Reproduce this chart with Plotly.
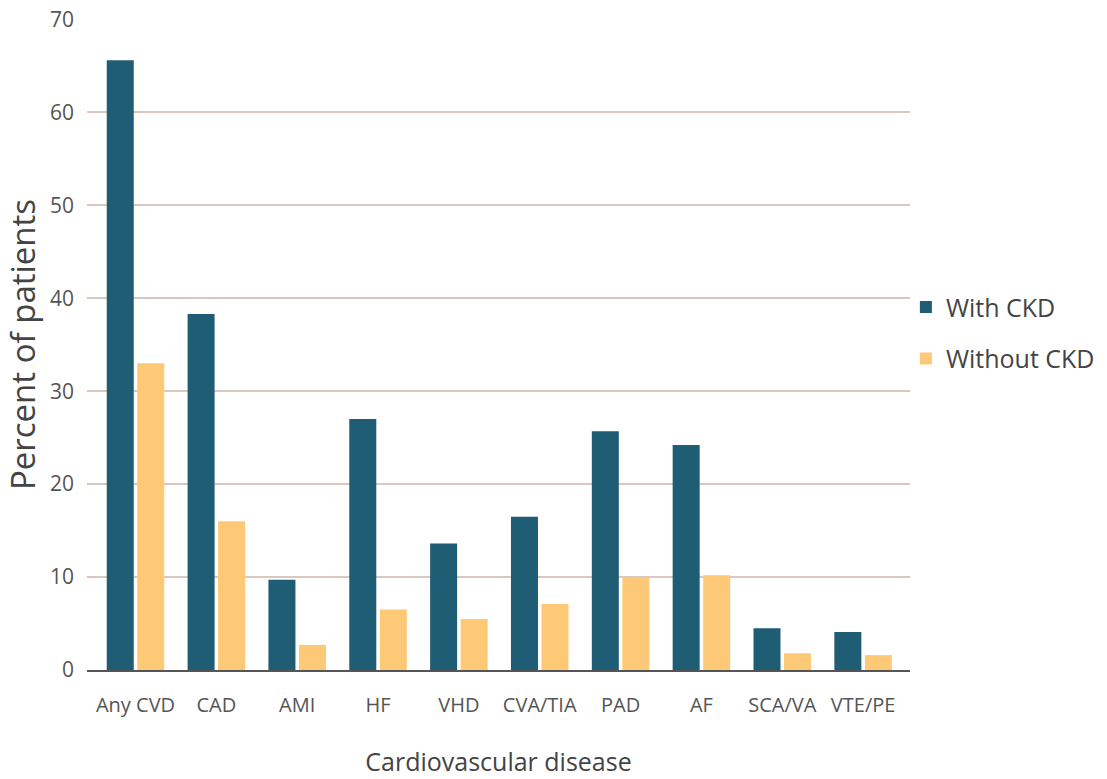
import plotly.graph_objects as go

categories = ["Any CVD", "CAD", "AMI", "HF", "VHD", "CVA/TIA", "PAD", "AF", "SCA/VA", "VTE/PE"]
with_ckd = [65.6, 38.3, 9.7, 27.0, 13.6, 16.5, 25.7, 24.2, 4.5, 4.1]
without_ckd = [33.0, 16.0, 2.7, 6.5, 5.5, 7.1, 10.0, 10.2, 1.8, 1.6]
y_ticks = [0, 10, 20, 30, 40, 50, 60, 70]

series = [("With CKD", with_ckd, "#1f5d75"), ("Without CKD", without_ckd, "#fdc977")]

FONT = "Open Sans"
TEXT = "#555555"

fig = go.Figure()
for name, values, color in series:
    fig.add_trace(go.Bar(name=name, x=categories, y=values, showlegend=False,
                         marker=dict(color=color, line=dict(width=0))))
# legend entries with larger square swatches
for name, values, color in series:
    fig.add_trace(go.Scatter(name=name, x=[None], y=[None], mode="markers",
                             legendgroup=name,
                             marker=dict(symbol="square", size=19, color=color)))

fig.update_layout(
    width=1107, height=779,
    margin=dict(l=87, r=197, t=19, b=109, autoexpand=False),
    paper_bgcolor="white", plot_bgcolor="white",
    barmode="group", bargap=0.245, bargroupgap=0.115,
    font=dict(family=FONT, color=TEXT),
    showlegend=True,
    legend=dict(x=0.995, y=0.518, xanchor="left", yanchor="middle",
                font=dict(size=25, color="#444444"), itemsizing="constant",
                tracegroupgap=16, bgcolor="rgba(0,0,0,0)", itemwidth=30),
)
fig.update_xaxes(
    range=[-0.6, 9.58], showgrid=False, ticks="",
    showline=True, linecolor="#555555", linewidth=2,
    tickfont=dict(size=20, color=TEXT), ticklabelstandoff=16,
    title=dict(text="Cardiovascular disease", font=dict(size=25, color="#444444"), standoff=36),
)
fig.update_yaxes(
    range=[0, 70.05], tickvals=y_ticks, showgrid=True, gridcolor="#d8c8c0", gridwidth=2,
    zeroline=False, showline=False, ticks="", ticklen=0,
    tickfont=dict(size=21, color=TEXT), ticklabelstandoff=12,
    title=dict(text="Percent of patients", font=dict(size=33, color="#444444"), standoff=10),
)

fig.write_html("out.html")
